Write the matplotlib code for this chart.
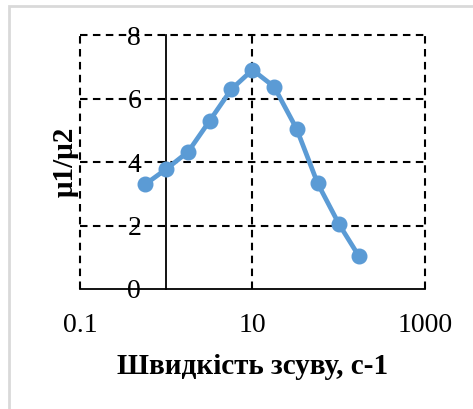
import matplotlib.pyplot as plt
from matplotlib.patches import Rectangle
from matplotlib.ticker import FixedLocator, FixedFormatter

# швидкість зсуву та відношення в'язкостей
shear_rate = [0.57, 1.0, 1.8, 3.2, 5.7, 10, 17.8, 32.5, 57, 101, 170]
mu_ratio = [3.30, 3.78, 4.33, 5.31, 6.30, 6.91, 6.38, 5.05, 3.33, 2.04, 1.05]

x_ticks = [0.1, 10, 1000]
x_tick_labels = ['0.1', '10', '1000']
y_ticks = [0, 2, 4, 6, 8]

plt.rcParams['font.family'] = ['Liberation Serif', 'DejaVu Serif']

fig = plt.figure(figsize=(4.73, 4.09), dpi=100, facecolor='white')
ax = fig.add_axes([0.169, 0.2934, 0.7295, 0.6203])

ax.plot(shear_rate, mu_ratio, color='#5B9BD5', linewidth=3.4, marker='o',
        markersize=10.5, zorder=5, clip_on=False)

ax.set_xscale('log')
ax.set_xlim(0.1, 1000)
ax.set_ylim(0, 8)
ax.xaxis.set_major_locator(FixedLocator(x_ticks))
ax.xaxis.set_major_formatter(FixedFormatter(x_tick_labels))
ax.xaxis.set_minor_locator(FixedLocator([]))
ax.set_yticks(y_ticks)

# сітка пунктиром
dash = (0, (3.6, 2.6))
for xv in x_ticks:
    ax.axvline(xv, color='black', linestyle=dash, linewidth=1.5, zorder=1, clip_on=False)
for yv in y_ticks[1:]:
    ax.axhline(yv, color='black', linestyle=dash, linewidth=1.5, zorder=1, clip_on=False)

# вісь y перетинає x у точці 1
ax.spines['left'].set_position(('data', 1))
ax.spines['left'].set_linewidth(1.3)
ax.spines['bottom'].set_linewidth(1.3)
ax.spines['left'].set_zorder(2)
ax.spines['bottom'].set_zorder(2)
ax.spines['right'].set_visible(False)
ax.spines['top'].set_visible(False)

ax.tick_params(axis='y', length=0, pad=18, labelsize=20)
ax.tick_params(axis='x', length=0, pad=17, labelsize=20)

fig.text(0.535, 0.103, 'Швидкість зсуву, с-1', ha='center', va='center',
         fontsize=21, fontweight='bold')
fig.text(0.137, 0.604, 'μ1/μ2', ha='center', va='center', rotation=90,
         fontsize=21, fontweight='bold')

# світла рамка навколо діаграми
fig.patches.append(Rectangle((8.5 / 473, -0.05), 1.1, 1.05 - 5.5 / 409,
                             transform=fig.transFigure, fill=False,
                             edgecolor='#d9d9d9', linewidth=2))

fig.savefig('out.png', dpi=100, facecolor='white')
